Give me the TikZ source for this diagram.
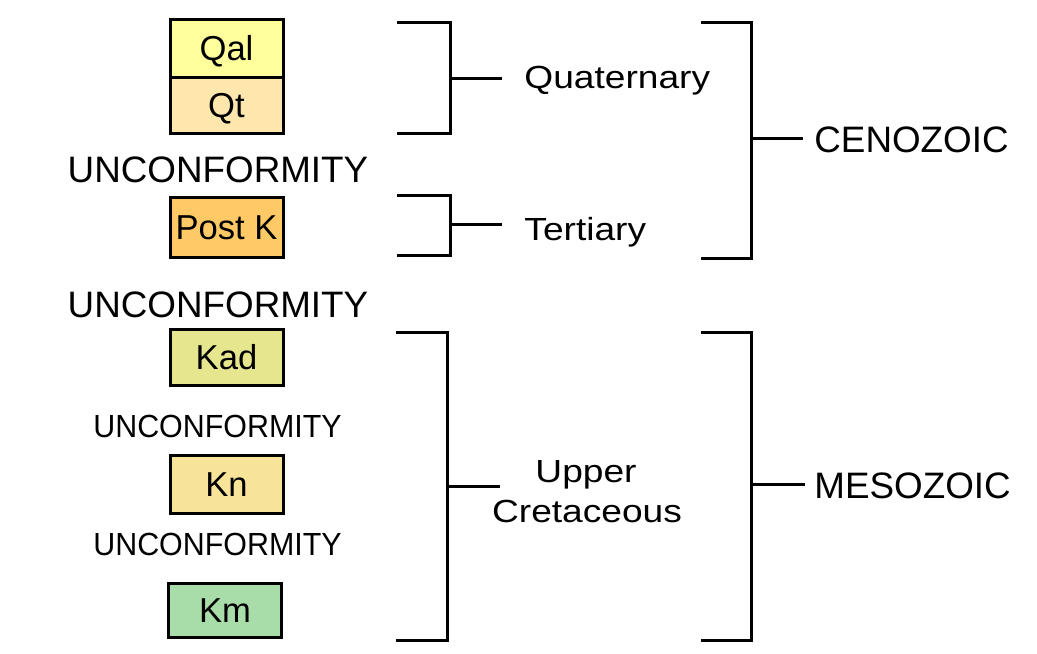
\documentclass[tikz,border=0pt]{standalone}
\usepackage{fontspec}
\setmainfont{Liberation Sans}
\definecolor{qalfill}{HTML}{FFFF9C}
\definecolor{qtfill}{HTML}{FFE6AC}
\definecolor{postkfill}{HTML}{FFCA66}
\definecolor{kadfill}{HTML}{E6E68E}
\definecolor{knfill}{HTML}{F8E498}
\definecolor{kmfill}{HTML}{A8DCA8}
\tikzset{
  unit/.style={draw=black, line width=1.5pt, inner sep=0pt,
    minimum width=56.5pt, font=\fontsize{17.3}{19}\selectfont,
    text height=12.4pt, text depth=0pt},
  biglabel/.style={inner sep=0pt, font=\fontsize{18.4}{20}\selectfont},
  smalllabel/.style={inner sep=0pt, font=\fontsize{16}{18}\selectfont},
  brace/.style={draw=black, line width=1.5pt, line cap=rect},
}
\newcommand{\wide}[1]{\scalebox{1.16}[1]{#1}}
\newcommand{\narrow}[1]{\scalebox{0.95}[1]{#1}}
\begin{document}
\begin{tikzpicture}[x=0.5pt, y=-0.5pt]
  \useasboundingbox (0,0) rectangle (1037,653);

  % rock units
  \node[unit, fill=qalfill, minimum height=29pt] (qal) at (226.5,48) {Qal};
  \node[unit, fill=qtfill, minimum height=28pt] (qt) at (226.5,105) {Qt};
  \node[unit, fill=postkfill, minimum height=30pt] (postk) at (226.5,227) {Post K};
  \node[unit, fill=kadfill, minimum height=28pt] (kad) at (226.5,357.5) {Kad};
  \node[unit, fill=knfill, minimum height=29pt] (kn) at (226.5,484) {Kn};
  \node[unit, fill=kmfill, minimum height=27pt] (km) at (225,610) {Km};

  % unconformities
  \node[biglabel, anchor=base] (u1) at (218,182) {UNCONFORMITY};
  \node[biglabel, anchor=base] (u2) at (218,317) {UNCONFORMITY};
  \node[smalllabel, anchor=base] (u3) at (217.5,437) {\narrow{UNCONFORMITY}};
  \node[smalllabel, anchor=base] (u4) at (217.5,555) {\narrow{UNCONFORMITY}};

  % periods
  \node[smalllabel, anchor=base west] (quat) at (524,88) {\wide{Quaternary}};
  \node[smalllabel, anchor=base west] (tert) at (524,240) {\wide{Tertiary}};
  \node[smalllabel, anchor=base] (upper) at (586,482) {\wide{Upper}};
  \node[smalllabel, anchor=base] (cret) at (587,522) {\wide{Cretaceous}};

  % eras
  \node[biglabel, anchor=base west] (ceno) at (814,152) {CENOZOIC};
  \node[biglabel, anchor=base west] (meso) at (814,498) {MESOZOIC};

  % bracket tips and stub ends
  \coordinate (qb) at (450,78);   \coordinate (qe) at (500,78);
  \coordinate (tb) at (450,224);  \coordinate (te) at (500,224);
  \coordinate (ub) at (447,486);  \coordinate (ue) at (498,486);
  \coordinate (cb) at (751,138);  \coordinate (ce) at (801,138);
  \coordinate (mb) at (751,484);  \coordinate (me) at (803,484);

  % period brackets
  \draw[brace] (398,22) -- (450,22) -- (450,133) -- (398,133);
  \draw[brace] (qb) -- (qe);
  \draw[brace] (398,195) -- (450,195) -- (450,255) -- (398,255);
  \draw[brace] (tb) -- (te);
  \draw[brace] (397,332) -- (447,332) -- (447,640) -- (397,640);
  \draw[brace] (ub) -- (ue);

  % era brackets
  \draw[brace] (702,22) -- (751,22) -- (751,258) -- (702,258);
  \draw[brace] (cb) -- (ce);
  \draw[brace] (702,332) -- (751,332) -- (751,640) -- (702,640);
  \draw[brace] (mb) -- (me);
\end{tikzpicture}
\end{document}
